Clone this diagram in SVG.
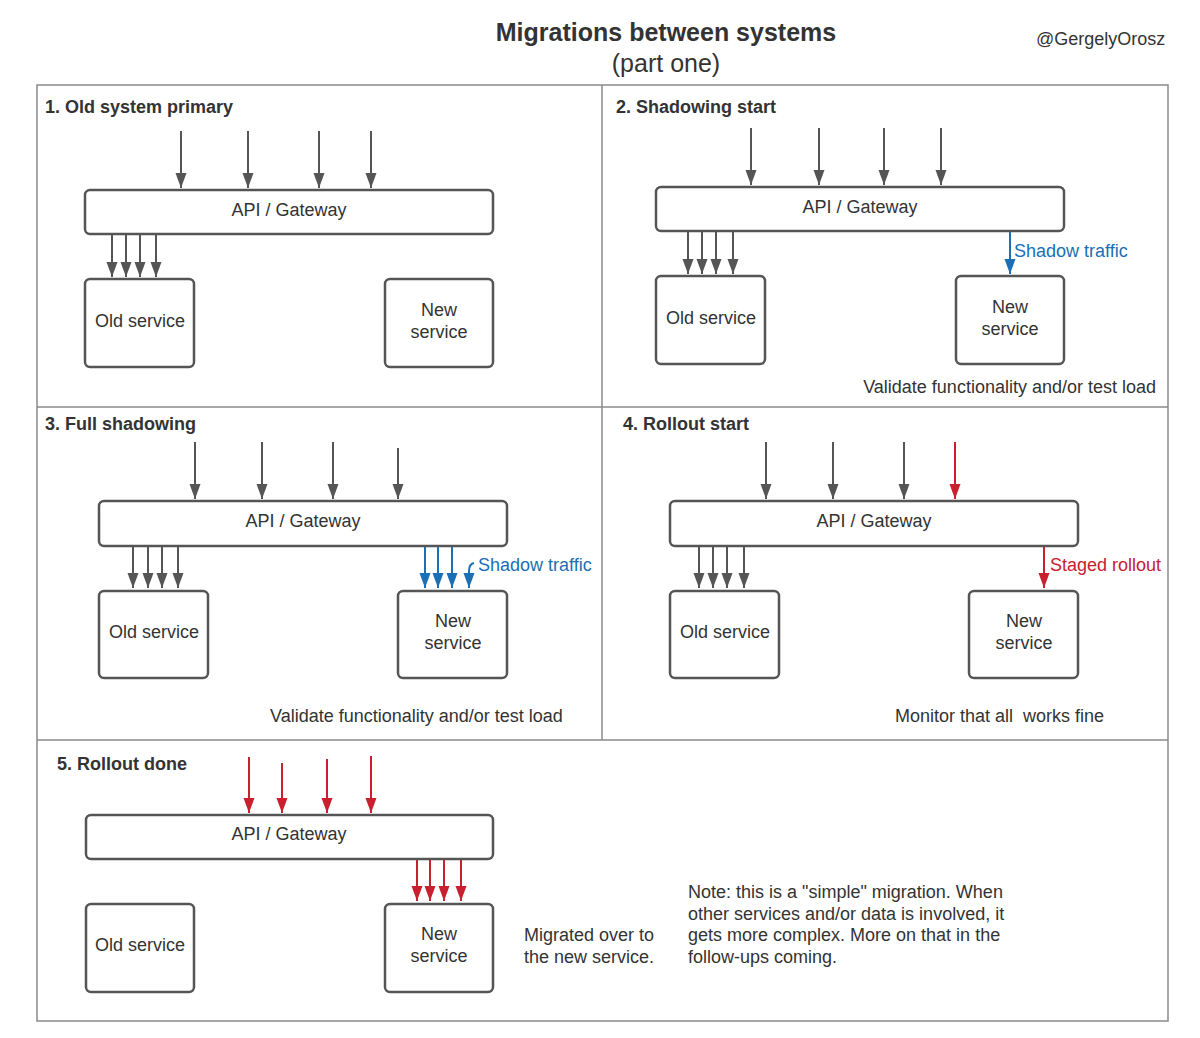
<svg xmlns="http://www.w3.org/2000/svg" width="1200" height="1038" viewBox="0 0 1200 1038">
<defs>
<style>
.t{font-family:"Liberation Sans",Arial,sans-serif;fill:#333;font-size:18px}
.h{font-family:"Liberation Sans",Arial,sans-serif;fill:#333;font-size:18px;font-weight:bold}
.c{text-anchor:middle}
.box{fill:#fff;stroke:#555;stroke-width:2.5}
.frame{fill:none;stroke:#8a8a8a;stroke-width:1.5}
.g{stroke:#555;stroke-width:2;fill:none;marker-end:url(#ag)}
.b{stroke:#1a6fb5;stroke-width:2;fill:none;marker-end:url(#ab)}
.r{stroke:#c8202f;stroke-width:2;fill:none;marker-end:url(#ar)}
.blue{fill:#1a6fb5}
.red{fill:#c8202f}
</style>
<marker id="ag" markerUnits="userSpaceOnUse" markerWidth="15" markerHeight="12" refX="15" refY="6" orient="auto" viewBox="0 0 15 12"><path d="M0 0.5 L15 6 L0 11.5 Z" fill="#555"/></marker>
<marker id="ab" markerUnits="userSpaceOnUse" markerWidth="15" markerHeight="12" refX="15" refY="6" orient="auto" viewBox="0 0 15 12"><path d="M0 0.5 L15 6 L0 11.5 Z" fill="#1a6fb5"/></marker>
<marker id="ar" markerUnits="userSpaceOnUse" markerWidth="15" markerHeight="12" refX="15" refY="6" orient="auto" viewBox="0 0 15 12"><path d="M0 0.5 L15 6 L0 11.5 Z" fill="#c8202f"/></marker>
</defs>
<rect width="1200" height="1038" fill="#fff"/>
<g id="title">
<text class="h c" x="666" y="41" style="font-size:25px">Migrations between systems</text>
<text class="t c" x="666" y="72" style="font-size:25px">(part one)</text>
<text class="t" x="1036" y="45">@GergelyOrosz</text>
</g>
<g id="frames">
<rect class="frame" x="37" y="85" width="1131" height="936"/>
<line class="frame" x1="602" y1="85" x2="602" y2="740"/>
<line class="frame" x1="37" y1="407" x2="1168" y2="407"/>
<line class="frame" x1="37" y1="740" x2="1168" y2="740"/>
</g>
<g id="panel1">
<text class="h" x="45" y="113">1. Old system primary</text>
<g id="p1-gateway"><rect class="box" x="85" y="190" width="408" height="44" rx="5"/><text class="t c" x="289" y="216">API / Gateway</text></g>
<g id="p1-old"><rect class="box" x="85" y="279" width="109" height="88" rx="5"/><text class="t c" x="140" y="327">Old service</text></g>
<g id="p1-new"><rect class="box" x="385" y="279" width="108" height="88" rx="5"/><text class="t c" x="439" y="316">New</text><text class="t c" x="439" y="338">service</text></g>
</g>
<g id="panel2">
<text class="h" x="616" y="113">2. Shadowing start</text>
<g id="p2-gateway"><rect class="box" x="656" y="187" width="408" height="44" rx="5"/><text class="t c" x="860" y="213">API / Gateway</text></g>
<g id="p2-old"><rect class="box" x="656" y="276" width="109" height="88" rx="5"/><text class="t c" x="711" y="324">Old service</text></g>
<g id="p2-new"><rect class="box" x="956" y="276" width="108" height="88" rx="5"/><text class="t c" x="1010" y="313">New</text><text class="t c" x="1010" y="335">service</text></g>
<text class="t blue" x="1014" y="257">Shadow traffic</text>
<text class="t" x="1156" y="393" text-anchor="end">Validate functionality and/or test load</text>
</g>
<g id="panel3">
<text class="h" x="45" y="430">3. Full shadowing</text>
<g id="p3-gateway"><rect class="box" x="99" y="501" width="408" height="45" rx="5"/><text class="t c" x="303" y="527">API / Gateway</text></g>
<g id="p3-old"><rect class="box" x="99" y="591" width="109" height="87" rx="5"/><text class="t c" x="154" y="638">Old service</text></g>
<g id="p3-new"><rect class="box" x="398" y="591" width="109" height="87" rx="5"/><text class="t c" x="453" y="627">New</text><text class="t c" x="453" y="649">service</text></g>
<text class="t blue" x="478" y="571">Shadow traffic</text>
<text class="t" x="270" y="722">Validate functionality and/or test load</text>
</g>
<g id="panel4">
<text class="h" x="623" y="430">4. Rollout start</text>
<g id="p4-gateway"><rect class="box" x="670" y="501" width="408" height="45" rx="5"/><text class="t c" x="874" y="527">API / Gateway</text></g>
<g id="p4-old"><rect class="box" x="670" y="591" width="109" height="87" rx="5"/><text class="t c" x="725" y="638">Old service</text></g>
<g id="p4-new"><rect class="box" x="969" y="591" width="109" height="87" rx="5"/><text class="t c" x="1024" y="627">New</text><text class="t c" x="1024" y="649">service</text></g>
<text class="t red" x="1050" y="571">Staged rollout</text>
<text class="t" x="895" y="722" style="white-space:pre">Monitor that all  works fine</text>
</g>
<g id="panel5">
<text class="h" x="57" y="770">5. Rollout done</text>
<g id="p5-gateway"><rect class="box" x="86" y="815" width="407" height="44" rx="5"/><text class="t c" x="289" y="840">API / Gateway</text></g>
<g id="p5-old"><rect class="box" x="86" y="904" width="108" height="88" rx="5"/><text class="t c" x="140" y="951">Old service</text></g>
<g id="p5-new"><rect class="box" x="385" y="904" width="108" height="88" rx="5"/><text class="t c" x="439" y="940">New</text><text class="t c" x="439" y="962">service</text></g>
<text class="t" x="524" y="941">Migrated over to</text>
<text class="t" x="524" y="963">the new service.</text>
<text class="t" x="688" y="898">Note: this is a "simple" migration. When</text>
<text class="t" x="688" y="920">other services and/or data is involved, it</text>
<text class="t" x="688" y="941">gets more complex. More on that in the</text>
<text class="t" x="688" y="963">follow-ups coming.</text>
</g>
<g id="connectors">
<line class="g" x1="181" y1="131" x2="181" y2="188"/>
<line class="g" x1="248" y1="131" x2="248" y2="188"/>
<line class="g" x1="319" y1="131" x2="319" y2="188"/>
<line class="g" x1="371" y1="131" x2="371" y2="188"/>
<line class="g" x1="112" y1="235" x2="112" y2="277"/>
<line class="g" x1="126" y1="235" x2="126" y2="277"/>
<line class="g" x1="140" y1="235" x2="140" y2="277"/>
<line class="g" x1="156" y1="235" x2="156" y2="277"/>
<line class="g" x1="751" y1="128" x2="751" y2="185"/>
<line class="g" x1="819" y1="128" x2="819" y2="185"/>
<line class="g" x1="884" y1="128" x2="884" y2="185"/>
<line class="g" x1="941" y1="128" x2="941" y2="185"/>
<line class="g" x1="688" y1="232" x2="688" y2="274"/>
<line class="g" x1="702" y1="232" x2="702" y2="274"/>
<line class="g" x1="716" y1="232" x2="716" y2="274"/>
<line class="g" x1="733" y1="232" x2="733" y2="274"/>
<line class="b" x1="1010" y1="232" x2="1010" y2="274"/>
<line class="g" x1="195" y1="442" x2="195" y2="499"/>
<line class="g" x1="262" y1="442" x2="262" y2="499"/>
<line class="g" x1="333" y1="442" x2="333" y2="499"/>
<line class="g" x1="398" y1="448" x2="398" y2="499"/>
<line class="g" x1="133" y1="547" x2="133" y2="588"/>
<line class="g" x1="148" y1="547" x2="148" y2="588"/>
<line class="g" x1="162" y1="547" x2="162" y2="588"/>
<line class="g" x1="178" y1="547" x2="178" y2="588"/>
<line class="b" x1="425" y1="547" x2="425" y2="588"/>
<line class="b" x1="438" y1="547" x2="438" y2="588"/>
<line class="b" x1="452" y1="547" x2="452" y2="588"/>
<path class="b" d="M474 563Q469 564 469 571V588"/>
<line class="g" x1="766" y1="442" x2="766" y2="499"/>
<line class="g" x1="833" y1="442" x2="833" y2="499"/>
<line class="g" x1="904" y1="442" x2="904" y2="499"/>
<line class="r" x1="955" y1="442" x2="955" y2="499"/>
<line class="g" x1="699" y1="547" x2="699" y2="588"/>
<line class="g" x1="713" y1="547" x2="713" y2="588"/>
<line class="g" x1="727" y1="547" x2="727" y2="588"/>
<line class="g" x1="744" y1="547" x2="744" y2="588"/>
<line class="r" x1="1044" y1="547" x2="1044" y2="588"/>
<line class="r" x1="249" y1="757" x2="249" y2="813"/>
<line class="r" x1="282" y1="763" x2="282" y2="813"/>
<line class="r" x1="327" y1="759" x2="327" y2="813"/>
<line class="r" x1="371" y1="756" x2="371" y2="813"/>
<line class="r" x1="417" y1="860" x2="417" y2="901"/>
<line class="r" x1="430" y1="860" x2="430" y2="901"/>
<line class="r" x1="444" y1="860" x2="444" y2="901"/>
<line class="r" x1="461" y1="860" x2="461" y2="901"/>
</g>
</svg>
